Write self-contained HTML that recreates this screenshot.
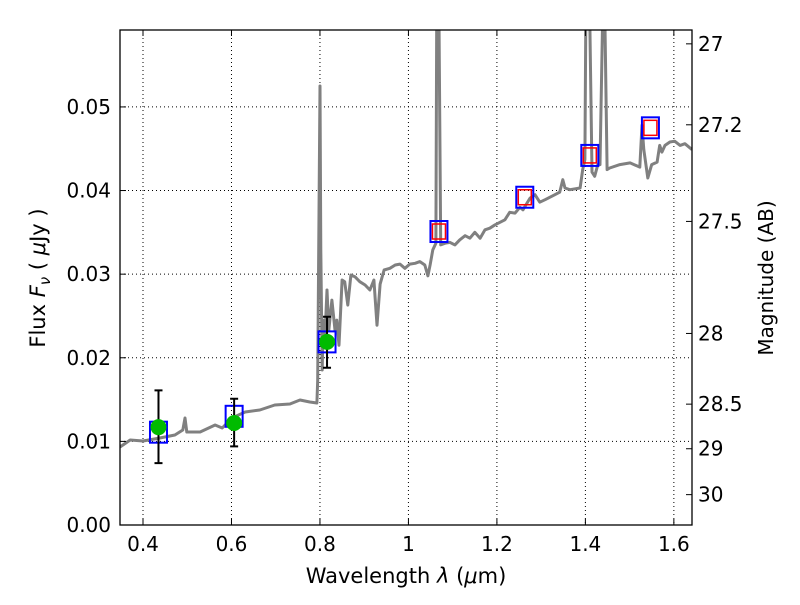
<!DOCTYPE html>
<html><head><meta charset="utf-8"><style>
html,body{margin:0;padding:0;background:#fff;}
svg text{font-family:"DejaVu Sans","Liberation Sans",sans-serif;fill:#000;}
</style></head><body>
<svg id="chart" width="800" height="600" xmlns="http://www.w3.org/2000/svg">
<defs><clipPath id="pc"><rect x="120" y="30" width="572" height="495"/></clipPath></defs>
<rect x="0" y="0" width="800" height="600" fill="#fff"/>
<g id="grid"></g>
<g id="plot" clip-path="url(#pc)"></g>
<rect x="120" y="30" width="572" height="495" fill="none" stroke="#000" stroke-width="1.3"/>
<g id="axes"></g>
<text x="406" y="583" font-size="21" text-anchor="middle">Wavelength  <tspan font-style="italic">λ</tspan> (<tspan font-style="italic">μ</tspan>m)</text>
<text transform="translate(45,278) rotate(-90)" font-size="21" text-anchor="middle">Flux  <tspan font-style="italic">F</tspan><tspan font-style="italic" font-size="15" dy="5">ν</tspan><tspan dy="-5">  (  </tspan><tspan font-style="italic">μ</tspan>Jy )</text>
<text transform="translate(773,278) rotate(-90)" font-size="20" text-anchor="middle">Magnitude (AB)</text>
</svg>
<script>
const specWave=[0.348,0.371,0.400,0.438,0.472,0.490,0.495,0.499,0.529,0.563,0.579,0.601,0.631,0.664,0.698,0.732,0.755,0.777,0.793,0.795,0.798,0.800,0.802,0.805,0.807,0.811,0.816,0.820,0.827,0.834,0.838,0.843,0.850,0.856,0.863,0.870,0.879,0.890,0.902,0.913,0.922,0.929,0.936,0.945,0.958,0.970,0.981,0.992,1.003,1.015,1.026,1.037,1.044,1.049,1.055,1.062,1.064,1.069,1.073,1.083,1.094,1.105,1.116,1.128,1.139,1.150,1.162,1.173,1.184,1.196,1.207,1.218,1.229,1.241,1.252,1.259,1.268,1.275,1.286,1.297,1.309,1.320,1.331,1.342,1.349,1.354,1.365,1.388,1.394,1.399,1.401,1.410,1.415,1.421,1.428,1.433,1.439,1.444,1.449,1.455,1.478,1.501,1.523,1.528,1.532,1.541,1.550,1.562,1.568,1.573,1.580,1.591,1.602,1.614,1.625,1.641];
const specFlux=[0.00933,0.01017,0.01005,0.01041,0.01076,0.01136,0.0128,0.01112,0.01112,0.01196,0.0116,0.0128,0.01351,0.01375,0.01435,0.01447,0.01495,0.01471,0.01459,0.01734,0.0389,0.0525,0.0329,0.01854,0.0245,0.0221,0.0281,0.0233,0.0269,0.0233,0.0245,0.0215,0.0293,0.0291,0.0263,0.0299,0.0297,0.0291,0.0287,0.0281,0.0293,0.0239,0.0288,0.0305,0.0307,0.0311,0.0312,0.0307,0.0312,0.0313,0.0315,0.0311,0.0298,0.0311,0.0329,0.0337,0.0604,0.0604,0.0335,0.0337,0.0338,0.0335,0.0341,0.0346,0.0343,0.0350,0.0343,0.0353,0.0355,0.0359,0.0362,0.0365,0.0374,0.0373,0.0380,0.0377,0.0385,0.0391,0.0395,0.0386,0.0389,0.0392,0.0395,0.0398,0.0413,0.0403,0.0401,0.0403,0.0425,0.0437,0.0604,0.0604,0.0422,0.0417,0.0431,0.0431,0.0604,0.0604,0.0425,0.0427,0.0431,0.0433,0.0428,0.0478,0.0449,0.0415,0.0431,0.0434,0.0454,0.0446,0.0454,0.0458,0.0459,0.0454,0.0456,0.0449];
const obsWave=[0.435,0.606,0.816];
const obsFlux=[0.0117,0.0122,0.0219];
const obsErrLo=[0.0074,0.0094,0.0188];
const obsErrHi=[0.0161,0.0151,0.0249];
const modelWave=[0.435,0.606,0.816,1.069,1.263,1.410,1.547];
const modelFlux=[0.0111,0.0130,0.0219,0.0351,0.0392,0.0442,0.0475];
const predWave=[1.069,1.263,1.410,1.547];
const predFlux=[0.0351,0.0392,0.0442,0.0475];
const xTicks=[0.4,0.6,0.8,1.0,1.2,1.4,1.6];
const xTickLabels=["0.4","0.6","0.8","1","1.2","1.4","1.6"];
const yTicks=[0,0.01,0.02,0.03,0.04,0.05];
const yTickLabels=["0.00","0.01","0.02","0.03","0.04","0.05"];
const magTicks=[27,27.2,27.5,28,28.5,29,30];
const magTickLabels=["27","27.2","27.5","28","28.5","29","30"];

const X0=120,X1=692,Y0=525,Y1=30,XMIN=0.348,XMAX=1.641,YMIN=0,YMAX=0.0592;
const sx=v=>X0+(v-XMIN)/(XMAX-XMIN)*(X1-X0);
const sy=v=>Y0-(v-YMIN)/(YMAX-YMIN)*(Y0-Y1);
const NS="http://www.w3.org/2000/svg";
function mk(parent,tag,attrs){const e=document.createElementNS(NS,tag);for(const k in attrs)e.setAttribute(k,attrs[k]);parent.appendChild(e);return e;}
const grid=document.getElementById('grid'),plot=document.getElementById('plot'),axes=document.getElementById('axes');

xTicks.forEach((t,i)=>{
  const x=sx(t);
  const g=mk(grid,'line',{x1:x,x2:x,y1:Y1,y2:Y0,stroke:'#000','stroke-dasharray':'1,3','stroke-width':1});
  
  
  mk(axes,'line',{x1:x,x2:x,y1:Y0,y2:Y0-6,stroke:'#000'});
  mk(axes,'line',{x1:x,x2:x,y1:Y1,y2:Y1+6,stroke:'#000'});
  const l=mk(axes,'text',{x:x,y:Y0+26,'font-size':20,'text-anchor':'middle'});
  l.textContent=xTickLabels[i];
  
  
});
yTicks.forEach((t,i)=>{
  const y=sy(t);
  const g=mk(grid,'line',{x1:X0,x2:X1,y1:y,y2:y,stroke:'#000','stroke-dasharray':'1,3','stroke-width':1});
  
  
  mk(axes,'line',{x1:X0,x2:X0+6,y1:y,y2:y,stroke:'#000'});
  const l=mk(axes,'text',{x:X0-9,y:y+7,'font-size':20,'text-anchor':'end'});
  l.textContent=yTickLabels[i];
  
  
});
magTicks.forEach((m,i)=>{
  const y=sy(Math.pow(10,(23.9-m)/2.5));
  mk(axes,'line',{x1:X1,x2:X1-6,y1:y,y2:y,stroke:'#000'});
  const l=mk(axes,'text',{x:X1+6,y:y+7,'font-size':20,'text-anchor':'start'});
  l.textContent=magTickLabels[i];
  
  
});

const pts=specWave.map((w,i)=>sx(w).toFixed(1)+','+sy(specFlux[i]).toFixed(1)).join(' ');
const sp=mk(plot,'polyline',{points:pts,fill:'none',stroke:'#808080','stroke-width':3,'stroke-linejoin':'round'});



modelWave.forEach((w,i)=>{
  const r=mk(plot,'rect',{x:sx(w)-8.5,y:sy(modelFlux[i])-10.5,width:17,height:21,fill:'none',stroke:'#0000ff','stroke-width':2});
  
  
});
predWave.forEach((w,i)=>{
  const r=mk(plot,'rect',{x:sx(w)-6.5,y:sy(predFlux[i])-7.5,width:13,height:15,fill:'none',stroke:'#ff0000','stroke-width':1.5});
  
  
});
obsWave.forEach((w,i)=>{
  const x=sx(w),yl=sy(obsErrLo[i]),yh=sy(obsErrHi[i]);
  const e=mk(plot,'path',{d:`M${x},${yl}V${yh}M${x-4},${yl}H${x+4}M${x-4},${yh}H${x+4}`,stroke:'#000','stroke-width':2,fill:'none'});
  
  
  const c=mk(plot,'circle',{cx:x,cy:sy(obsFlux[i]),r:8,fill:'#00bb00'});
  
  
});
</script>
</body></html>
